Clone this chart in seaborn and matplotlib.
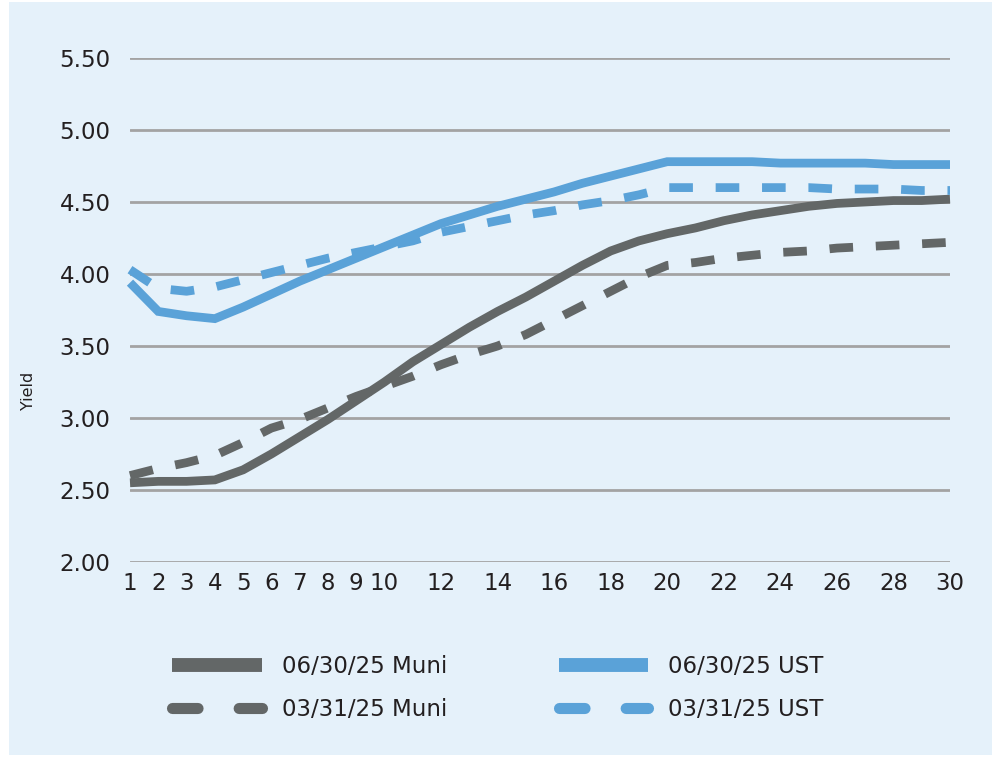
import matplotlib
matplotlib.use("Agg")
import matplotlib.pyplot as plt
from matplotlib.lines import Line2D
from matplotlib.patches import Rectangle
import seaborn as sns
import pandas as pd

years = list(range(1, 31))

muni_jun = [2.55, 2.56, 2.56, 2.57, 2.64, 2.75, 2.87, 2.99, 3.12, 3.25,
            3.39, 3.51, 3.63, 3.74, 3.84, 3.95, 4.06, 4.16, 4.23, 4.28,
            4.32, 4.37, 4.41, 4.44, 4.47, 4.49, 4.50, 4.51, 4.51, 4.52]
muni_mar = [2.60, 2.65, 2.69, 2.74, 2.83, 2.93, 2.99, 3.07, 3.15, 3.22,
            3.29, 3.37, 3.44, 3.50, 3.58, 3.68, 3.78, 3.88, 3.98, 4.06,
            4.08, 4.11, 4.13, 4.15, 4.16, 4.18, 4.19, 4.20, 4.21, 4.22]
ust_jun = [3.94, 3.74, 3.71, 3.69, 3.77, 3.86, 3.95, 4.03, 4.11, 4.19,
           4.27, 4.35, 4.41, 4.47, 4.52, 4.57, 4.63, 4.68, 4.73, 4.78,
           4.78, 4.78, 4.78, 4.77, 4.77, 4.77, 4.77, 4.76, 4.76, 4.76]
ust_mar = [4.03, 3.90, 3.88, 3.91, 3.96, 4.01, 4.06, 4.11, 4.15, 4.19,
           4.23, 4.29, 4.33, 4.37, 4.41, 4.44, 4.48, 4.51, 4.55, 4.60,
           4.60, 4.60, 4.60, 4.60, 4.60, 4.59, 4.59, 4.59, 4.58, 4.58]

xticks = [1, 2, 3, 4, 5, 6, 7, 8, 9, 10, 12, 14, 16, 18, 20, 22, 24, 26, 28, 30]
yticks = [2.0, 2.5, 3.0, 3.5, 4.0, 4.5, 5.0, 5.5]

GRAY = "#636767"
BLUE = "#5aa2d8"
BG = "#e5f1fa"
TXT = "#231f20"

sns.set_style("white")
plt.rcParams["font.family"] = ["DejaVu Sans"]

fig = plt.figure(figsize=(10, 7.61), dpi=100)
fig.add_artist(Rectangle((9 / 1000, 1 - 755 / 761), 983 / 1000, 753 / 761,
                         transform=fig.transFigure, facecolor=BG,
                         edgecolor="none", zorder=-10))
ax = fig.add_axes([0.130, 1 - 562 / 761, 0.820, (562 - 58) / 761])
ax.set_facecolor("none")

series = [
    ("06/30/25 Muni", muni_jun, GRAY, ""),
    ("03/31/25 Muni", muni_mar, GRAY, (2.7, 2.6)),
    ("06/30/25 UST", ust_jun, BLUE, ""),
    ("03/31/25 UST", ust_mar, BLUE, (2.7, 2.6)),
]
for name, vals, col, dash in series:
    df = pd.DataFrame({"Maturity": years, "Yield": vals})
    sns.lineplot(x="Maturity", y="Yield", data=df, ax=ax, color=col,
                 linewidth=6.3, legend=False)
    l = ax.lines[-1]
    l.set_solid_joinstyle("miter")
    l.set_solid_capstyle("butt")
    if dash:
        l.set_dashes(dash)
        l.set_dash_capstyle("butt")
    l.set_clip_on(False)
    l.set_zorder(3)

ax.set_xlim(1, 30)
ax.set_ylim(2.0, 5.5)
ax.set_xticks(xticks)
ax.set_xticklabels([str(t) for t in xticks])
ax.set_yticks(yticks)
ax.set_yticklabels([f"{t:.2f}" for t in yticks])
ax.grid(axis="y", color="#a3a3a3", linewidth=2)
ax.grid(axis="x", visible=False)
ax.tick_params(axis="both", length=0, labelsize=16.5, colors=TXT)
ax.tick_params(axis="y", pad=14)
ax.tick_params(axis="x", pad=7)
for s in ax.spines.values():
    s.set_visible(False)
ax.set_xlabel("")
ax.set_ylabel("Yield", fontsize=11.5, color=TXT)
ax.yaxis.set_label_coords(-0.115, 0.34)

handles = [
    Line2D([], [], color=GRAY, lw=10, solid_capstyle="butt"),
    Line2D([], [], color=GRAY, lw=8, linestyle=(0, (2.3, 3.7)), dash_capstyle="round"),
    Line2D([], [], color=BLUE, lw=10, solid_capstyle="butt"),
    Line2D([], [], color=BLUE, lw=8, linestyle=(0, (2.3, 3.7)), dash_capstyle="round"),
]
labels = [s[0] for s in series]
fig.legend(handles, labels, ncol=2, loc="center", bbox_to_anchor=(0.498, 1 - 688 / 761),
           frameon=False, fontsize=16.5, handlelength=3.9, handletextpad=0.87,
           columnspacing=4.9, labelspacing=0.9, labelcolor=TXT)

fig.savefig("out.png", dpi=100, facecolor="white")
